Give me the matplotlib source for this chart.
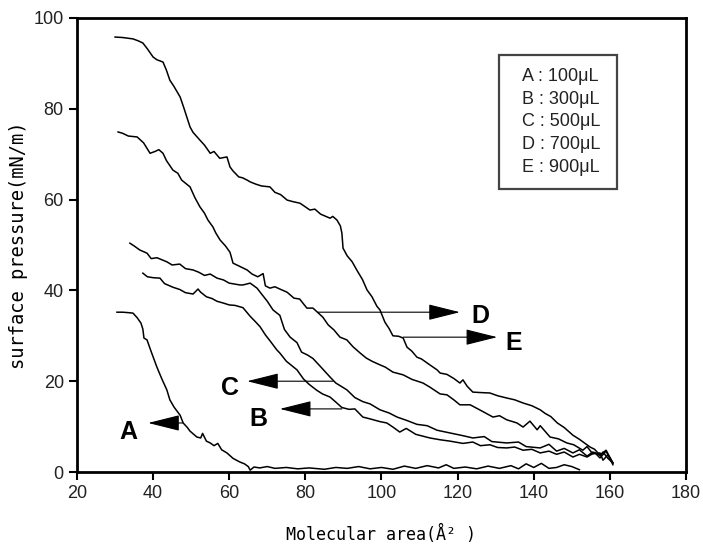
import matplotlib
matplotlib.use("Agg")
import matplotlib.pyplot as plt
from matplotlib.patches import Rectangle

plt.rcParams['font.family'] = ['Liberation Sans', 'DejaVu Sans']

# valores (isotermas pi-A)
x_e = [30, 32, 34.7, 36, 37.3, 38.5, 40, 41, 42.6, 43.5, 44.4, 45.5, 47.1, 48, 49.7, 50.5, 52.3, 53.5, 55, 56,
       57.5, 59.4, 60.2, 61, 62.5, 63.5, 64.7, 65.5, 67, 68.5, 70.7, 72, 73.5, 75.2, 76.5, 78.6, 80, 81.2, 82.5,
       84, 86.5, 87.2, 88.3, 89.2, 89.6, 89.9, 91, 92.3, 93.5, 95, 96.2, 97.5, 98.8, 99.6, 100.9, 102, 103,
       104.5, 105.7, 106.7, 108, 109.3, 110.5, 112.7, 114.6, 115.4, 117.2, 119, 120.6, 121.4, 122.5, 124, 126,
       128.5, 130.5, 132.9, 135, 137.2, 139.5, 141.7, 143, 144.5, 146.2, 148, 150.3, 152, 154.8, 156, 157.5,
       158.2, 159.5, 160.8]
y_e = [95.8, 95.7, 95.4, 95.0, 94.5, 93.2, 91.4, 90.8, 90.3, 88.5, 86.3, 84.9, 82.6, 80.4, 76.0, 74.8, 73.1,
       72.0, 70.2, 70.6, 69.1, 69.4, 67.2, 66.3, 65.0, 64.8, 64.3, 63.9, 63.4, 63.0, 62.8, 61.6, 61.1, 59.9,
       59.6, 59.2, 58.4, 57.7, 57.9, 56.8, 55.9, 56.3, 55.5, 54.2, 52.6, 49.3, 47.6, 46.3, 44.5, 42.4, 40.1,
       38.6, 36.5, 35.7, 33.0, 31.6, 30.0, 29.9, 29.5, 27.5, 26.6, 25.3, 24.9, 23.6, 22.5, 21.8, 21.5, 20.6,
       19.6, 20.3, 18.9, 17.6, 17.5, 17.4, 16.8, 16.3, 15.9, 15.2, 14.6, 13.7, 12.9, 12.2, 10.8, 9.8, 8.1,
       7.2, 5.5, 5.0, 3.6, 4.4, 3.0, 2.0]

x_d = [30.8, 32, 33.5, 35.8, 37.5, 39.2, 40.5, 41.5, 42.6, 43.5, 45.2, 46.5, 47.5, 49.7, 51, 52.3, 53.5, 54.4,
       55.7, 56.5, 57.6, 59, 60.2, 61, 62, 64.7, 66, 67.5, 68.9, 69.5, 70.7, 72, 73.3, 75.2, 77, 78.5, 80.4,
       82, 84.6, 86, 87.5, 89.1, 90.9, 92.5, 94.4, 96, 97.5, 99.6, 101, 103, 105.7, 108, 110.9, 112.7, 115.4,
       117.2, 119, 120.6, 123.3, 126, 129.3, 131, 132.9, 135.6, 137.2, 139, 140.9, 141.7, 144.3, 146.5,
       148.7, 150.5, 152.9, 154, 155.5, 157.4, 158.2, 159.5, 160.8]
y_d = [74.9, 74.6, 74.0, 73.8, 72.5, 70.2, 70.6, 71.0, 70.2, 68.6, 66.5, 65.8, 64.3, 62.8, 60.4, 58.4, 57.0,
       55.5, 54.0, 52.6, 51.1, 49.8, 48.4, 46.0, 45.6, 44.5, 43.6, 43.0, 43.7, 41.0, 40.5, 40.8, 40.3, 39.6,
       38.3, 38.1, 36.1, 36.1, 34.1, 32.4, 31.3, 29.7, 29.1, 27.6, 26.2, 25.1, 24.4, 23.6, 23.1, 22.0, 21.4,
       20.4, 19.6, 18.7, 17.2, 17.0, 15.9, 14.8, 14.8, 13.6, 12.1, 12.4, 11.5, 10.8, 9.9, 11.2, 9.3, 10.2,
       7.7, 7.3, 6.4, 6.0, 4.8, 5.6, 4.0, 4.2, 2.6, 3.8, 2.0]

x_c = [33.9, 35, 36.5, 38.4, 39.5, 41, 43.6, 45, 47, 48.5, 50.5, 52, 53.5, 55, 56.8, 58.5, 60, 62.8, 63.6,
       65.5, 67.3, 68.5, 70, 71.5, 73.3, 74.5, 76, 77.8, 79, 80.5, 82, 84, 86.5, 88, 90.9, 93, 95.1, 97,
       99.6, 102, 104.1, 106.5, 109.3, 112, 114.6, 118, 121.4, 124, 127, 129, 132.9, 136, 138, 141.7, 144,
       146, 148, 150.3, 152, 154, 155.5, 157.4, 159, 160.8]
y_c = [50.4, 49.8, 48.9, 48.2, 47.0, 47.2, 46.3, 45.6, 45.8, 44.8, 44.5, 44.0, 43.3, 43.6, 42.7, 42.3, 41.6,
       41.2, 41.2, 41.6, 40.5, 39.2, 37.6, 35.7, 34.5, 31.4, 29.7, 28.5, 26.4, 25.8, 25.0, 23.2, 20.9, 19.6,
       18.1, 16.4, 15.5, 15.0, 13.7, 13.0, 12.1, 11.4, 10.5, 10.2, 9.2, 8.6, 8.0, 7.5, 7.8, 6.7, 6.4, 6.6,
       5.6, 5.3, 6.1, 4.6, 5.2, 4.2, 4.9, 3.5, 4.4, 3.7, 4.8, 2.0]

x_b = [37.3, 38.5, 40, 41.8, 43, 45.2, 47, 48.5, 50.5, 51.8, 52.5, 54, 55.5, 56.8, 58.5, 60, 61.5, 63.6, 64.5,
       65.5, 67, 68.1, 69.5, 70.8, 72.5, 73.3, 75, 77.8, 79.5, 81, 83, 84.5, 86.5, 88, 89.6, 91.5, 93, 95.1,
       97, 99.6, 101.4, 103, 104.8, 106.5, 109, 112.7, 115.4, 118, 121.4, 124, 126, 128.5, 130.5, 132.9,
       135, 137.2, 139.5, 141.7, 144, 146, 148, 150.3, 152, 154, 156, 157.4, 159, 160.8]
y_b = [43.8, 43.0, 42.8, 42.7, 41.5, 40.7, 40.2, 39.5, 39.2, 40.3, 39.6, 38.6, 38.2, 37.6, 37.2, 36.8, 36.7,
       36.2, 35.3, 34.3, 33.0, 32.0, 30.2, 28.8, 26.9, 26.2, 24.4, 22.5, 20.5, 19.3, 18.0, 17.2, 16.5, 15.4,
       14.2, 13.8, 13.9, 12.1, 11.7, 11.1, 10.8, 9.9, 8.8, 9.6, 8.3, 7.5, 7.1, 6.8, 6.3, 6.6, 5.8, 6.0, 5.4,
       5.3, 5.5, 4.8, 5.0, 4.2, 4.6, 3.9, 4.4, 3.3, 3.9, 3.3, 4.3, 3.1, 4.6, 1.6]

x_a = [30.5, 32, 33.5, 34.7, 35.8, 36.8, 37.3, 37.6, 38.4, 39.5, 41, 42.3, 43.6, 44.4, 45.5, 47.1, 47.9, 49,
       49.7, 51.5, 52.5, 53, 54, 55, 56, 57, 58, 59.4, 61, 62.8, 64, 65, 65.5, 66.5, 68, 70, 72, 75, 78, 81,
       85, 88, 91, 94, 97, 100, 103, 106, 109, 112, 115, 117, 119, 122, 125, 128, 131, 134, 136, 138, 140,
       142, 144, 146, 148, 150, 152]
y_a = [35.2, 35.2, 35.1, 35.0, 34.0, 32.8, 31.5, 29.5, 29.1, 26.5, 23.1, 20.5, 18.1, 15.9, 14.3, 12.5, 10.8,
       9.8, 9.0, 7.7, 7.5, 8.5, 6.8, 6.4, 5.8, 6.3, 4.9, 4.2, 3.0, 2.2, 1.8, 1.2, 0.4, 1.1, 0.9, 1.2, 0.8,
       1.0, 0.7, 0.9, 0.6, 1.0, 0.8, 1.2, 0.7, 1.0, 0.6, 1.3, 0.8, 1.4, 0.9, 1.6, 0.8, 1.1, 0.7, 1.3, 0.8,
       1.4, 0.7, 1.8, 1.0, 1.9, 0.8, 1.0, 1.6, 1.2, 0.5]

# setas: (ponta x, ponta y, inicio x, inicio y), rotulo e posicao do rotulo
setas = [(38.7, 10.8, 47.9, 10.8), (73.3, 13.9, 89.6, 13.9), (64.7, 20.0, 87.3, 20.0),
         (120.6, 35.2, 83.3, 35.2), (130.4, 29.7, 105.7, 29.7)]
rotulos = ["A", "B", "C", "D", "E"]
pos_rotulos = [(33.4, 8.8), (67.6, 11.7), (60.2, 18.5), (125.9, 34.4), (134.8, 28.4)]
legenda = ["A : 100μL", "B : 300μL", "C : 500μL", "D : 700μL", "E : 900μL"]

fig = plt.figure(figsize=(7.03, 5.47), dpi=100)
ax = fig.add_axes([0.1095, 0.1371, 0.8663, 0.830])

for xs, ys in [(x_a, y_a), (x_b, y_b), (x_c, y_c), (x_d, y_d), (x_e, y_e)]:
    ax.plot(xs, ys, color='black', lw=1.1)

for (tx, ty, sx, sy), r, (lx, ly) in zip(setas, rotulos, pos_rotulos):
    ax.annotate("", xy=(tx, ty), xytext=(sx, sy),
                arrowprops=dict(arrowstyle="-|>,head_length=1.0,head_width=0.25",
                                mutation_scale=20, color='black', lw=0.8,
                                shrinkA=0, shrinkB=0))
    ax.text(lx, ly, r, fontsize=18, fontweight='bold', ha='center', va='center')

# caixa da legenda
ax.add_patch(Rectangle((0.693, 0.623), 0.194, 0.295, transform=ax.transAxes,
                       fill=False, edgecolor='#444444', lw=1.6))
for i, t in enumerate(legenda):
    ax.text(0.731, 0.872 - i * 0.0505, t, transform=ax.transAxes, fontsize=13,
            ha='left', va='center', color='#222222')

ax.set_xlim(20, 180)
ax.set_ylim(0, 100)
ax.set_xticks(range(20, 181, 20))
ax.set_yticks(range(0, 101, 20))
ax.tick_params(direction='out', length=6, width=1.5, labelsize=13, colors='black')
ax.tick_params(labelcolor='#222222')
for s in ax.spines.values():
    s.set_linewidth(2)

ax.set_xlabel("Molecular area(Å² )", family='DejaVu Sans Mono', fontsize=12, labelpad=16)
ax.set_ylabel("surface pressure(mN/m)", family='DejaVu Sans Mono', fontsize=13.5, labelpad=4)

fig.savefig("out.png", dpi=100)
